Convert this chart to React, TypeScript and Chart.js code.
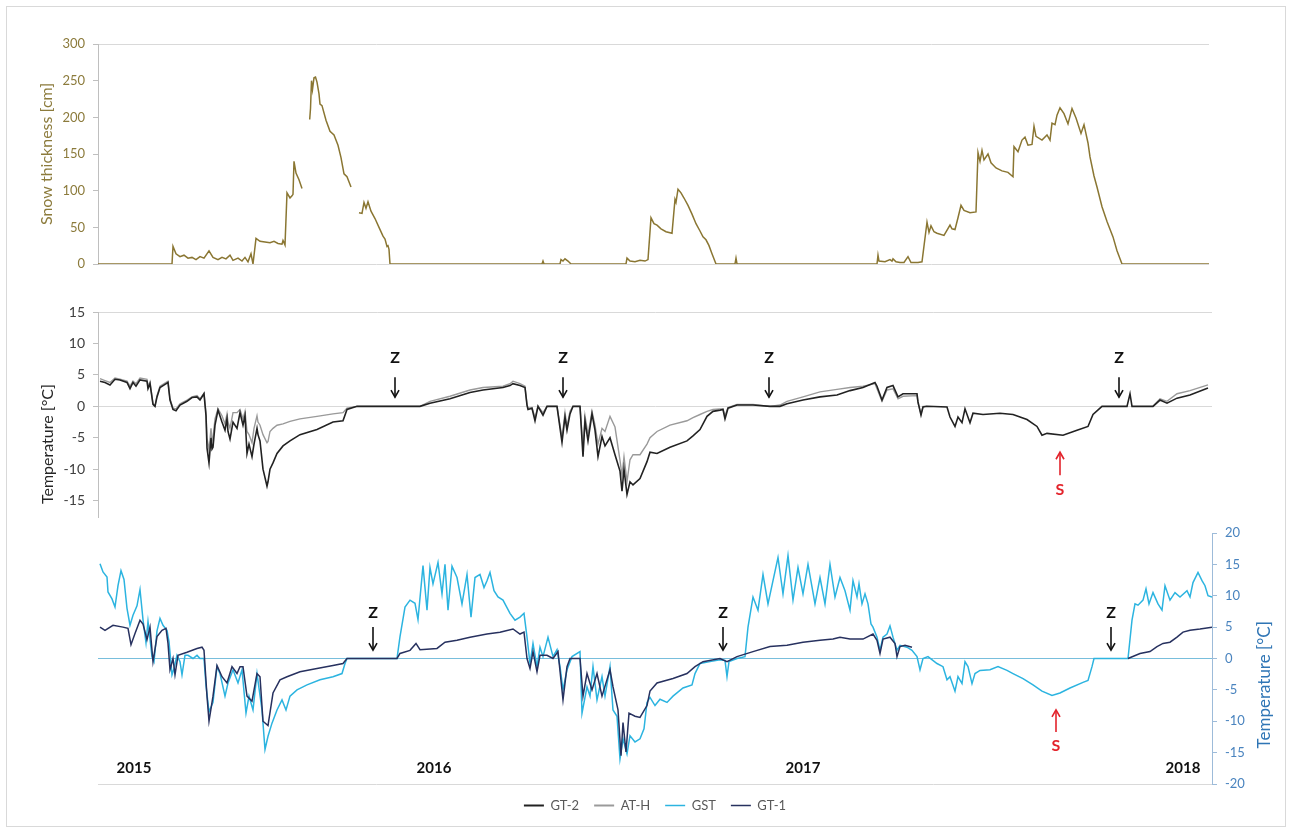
import React, { useEffect, useRef } from 'react';
import { Chart, registerables } from 'chart.js';

Chart.register(...registerables);

const W = 1290;
const H = 830;
const FONT = 'Lato, "Open Sans", "Noto Sans", sans-serif';

// ---------- DATA (x = days since start of record) ----------
const snowDays = [0, 74, 75, 78, 82, 86, 90, 94, 98, 102, 106, 111, 115, 120, 124, 128, 132, 135, 140, 144, 147, 150, 153, 155, 158, 162, 167, 172, 176, 180, 184, 185, 187, 189, 192, 194, 195, 196, 198, 201, 204, 205, 211.7, 212.5, 213.5, 214.5, 216, 217.5, 219, 221, 222, 224, 228, 232, 236, 240, 243, 246, 249, 253, 254, 261, 264, 266, 268, 270, 273, 277, 281, 285, 287, 289, 290, 291, 292, 444, 445, 446, 462, 463, 465, 467, 470, 473, 528, 529, 532, 537, 542, 547, 550, 553, 556, 559, 563, 568, 574, 577, 578, 580, 583, 586, 590, 594, 598, 602, 605, 608, 611, 614, 618, 637, 638, 639, 779, 780, 781, 787, 792, 794, 795, 798, 802, 806, 810, 813, 820, 824, 829, 831, 833, 836, 839, 846, 852, 854, 857, 860, 863, 866, 872, 878, 880, 882, 884, 886, 890, 893, 898, 904, 910, 915, 916, 920, 924, 927, 930, 934, 936, 938, 944, 949, 952, 954, 957, 959, 962, 966, 970, 974, 978, 983, 986, 990, 992, 996, 999, 1004, 1009, 1015, 1019, 1024, 1111];
const snowCm = [0, 0, 24, 14, 10, 12, 8, 9, 6, 10, 8, 18, 9, 6, 9, 7, 12, 5, 8, 4, 9, 3, 14, 0, 35, 31, 30, 29, 31, 28, 27, 32, 26, 97, 90, 93, 95, 140, 124, 115, 103, null, 197, 212, 250, 238, 254, 255, 248, 232, 218, 216, 196, 181, 176, 162, 145, 123, 119, 105, null, 70, 69, 84, 76, 85, 72, 62, 50, 38, 34, 24, 25, 20, 0, 0, 4, 0, 0, 6, 4, 7, 4, 0, 0, 8, 4, 3, 5, 4, 6, 63, 55, 53, 48, 44, 42, 88, 84, 102, 97, 90, 80, 68, 55, 45, 37, 33, 25, 14, 0, 0, 8, 0, 0, 12, 4, 3, 6, 4, 7, 3, 2, 2, 10, 2, 2, 3, 57, 43, 52, 44, 42, 39, 53, 48, 47, 63, 80, 73, 70, 71, 152, 140, 155, 142, 150, 138, 131, 127, 125, 119, 160, 153, 169, 173, 162, 163, 188, 174, 169, 176, 169, 192, 190, 203, 213, 205, 191, 212, 199, 178, 190, 165, 146, 120, 105, 78, 58, 37, 18, 0, 0];

const midDays = [
  2, 7, 12, 17, 22, 29, 32, 35, 38, 42,
  49, 50, 52, 55, 57, 59, 62, 69, 70, 72,
  75, 78, 82, 89, 94, 99, 102, 106, 108, 109,
  111, 113, 114, 115, 117, 120, 124, 127, 129, 130,
  132, 135, 139, 142, 145, 147, 149, 151, 154, 156,
  159, 160, 162, 165, 169, 170, 172, 175, 179, 185,
  192, 202, 219, 235, 245, 249, 259, 322, 332, 352,
  372, 385, 405, 412, 415, 422, 427, 429, 430, 434,
  437, 440, 445, 449, 459, 464, 467, 469, 472, 475,
  482, 485, 487, 490, 494, 497, 500, 504, 507, 512,
  517, 522, 524, 526, 529, 532, 535, 542, 549, 552,
  559, 572, 589, 595, 602, 609, 615, 622, 625, 627,
  630, 639, 655, 672, 682, 689, 705, 722, 739, 752,
  765, 777, 779, 784, 789, 795, 800, 805, 819, 820,
  823, 825, 829, 849, 852, 857, 860, 864, 867, 872,
  875, 885, 902, 915, 929, 939, 944, 949, 965, 979,
  990, 995, 1004, 1029, 1032, 1034, 1055, 1062, 1069, 1079,
  1092, 1110,
];
const gt2Temp = [
  4.0, 3.8, 3.4, 4.3, 4.2, 3.8, 2.8, 3.8, 3.2, 4.2,
  4.0, 2.8, 3.6, 0.3, 0, 1.5, 3.0, 3.7, 3.8, 1.0,
  -0.5, -0.7, 0.2, 0.8, 1.4, 1.5, 1.0, 2.0, -1.5, -6.6,
  -9.0, -5.0, -6.8, -6.5, -3.0, -0.6, -2.5, -3.8, -2.0, -4.0,
  -5.2, -2.5, -3.5, -1.0, -3.0, -1.5, -7.5, -6.0, -8.0, -6.0,
  -3.5, -4.5, -5.5, -10.0, -12.7, -12.0, -10.0, -9.0, -7.5, -6.3,
  -5.5, -4.5, -3.7, -2.5, -2.3, -0.5, 0, 0, 0.5, 1.2,
  2.2, 2.6, 3.0, 3.3, 3.6, 3.3, 3.0, 0.2, -0.5, -0.3,
  -2.3, 0, -1.4, 0, 0, -5.7, -1.7, -3.8, -1.2, 0,
  0, -8.0, -2.3, -5.5, -1.2, -3.8, -8.0, -4.8, -6.3, -5.0,
  -7.7, -10.3, -13.5, -10.0, -14.0, -12.0, -12.5, -11.5, -8.8, -7.3,
  -7.5, -6.5, -5.5, -4.7, -3.7, -1.6, -0.8, -0.6, -0.5, -2.0,
  -0.3, 0.2, 0.2, 0, 0, 0.4, 1.0, 1.5, 1.8, 2.5,
  3.0, 3.8, 3.2, 1.0, 3.0, 3.3, 1.5, 2.0, 2.0, 0.7,
  -1.4, -0.1, 0, -0.1, -1.7, -3.2, -1.7, -2.6, -0.4, -2.6,
  -1.1, -1.3, -1.1, -1.3, -2.1, -3.2, -4.6, -4.3, -4.6, -3.8,
  -3.2, -1.3, 0, 0, 2.0, 0, 0, 1.0, 0.5, 1.3,
  1.8, 2.9,
];
const athTemp = [
  4.4, 4.1, 3.8, 4.5, 4.3, 4.0, 3.2, 4.0, 3.6, 4.5,
  4.3, 3.2, 3.9, 0.4, 0.1, 1.7, 3.2, 3.9, 4.0, 1.2,
  -0.3, -0.4, 0.4, 1.0, 1.5, 1.7, 1.2, 2.1, -1.0, -5.0,
  -7.0, -3.5, -5.5, -5.0, -2.0, -0.4, -1.5, -2.8, -1.2, -2.5,
  -3.5, -1.0, -1.0, -0.5, -2.0, -0.8, -4.0, -4.5, -5.8, -3.5,
  -1.5, -2.5, -3.0, -4.5, -5.8, -5.6, -4.0, -3.5, -3.0, -2.8,
  -2.4, -2.0, -1.6, -1.2, -1.0, -0.3, 0, 0, 0.8, 1.6,
  2.6, 3.0, 3.2, 3.6, 4.0, 3.6, 3.2, 0.3, -0.3, -0.2,
  -1.8, 0, -1.0, 0, 0, -5.0, -1.0, -3.2, -0.8, 0,
  0, -6.5, -1.5, -4.5, -0.8, -3.0, -6.0, -3.5, -4.0, -1.6,
  -3.3, -8.6, -11.0, -8.0, -12.0, -8.5, -7.7, -7.7, -6.0, -5.0,
  -4.0, -3.0, -2.3, -1.8, -1.3, -0.8, -0.5, -0.4, -0.4, -1.5,
  -0.2, 0.3, 0.3, 0, 0.2, 0.8, 1.5, 2.3, 2.7, 3.0,
  3.2, 3.6, 2.8, 0.8, 2.6, 2.8, 1.2, 1.6, 1.7, 0.5,
  -1.2, 0, 0, null, null, null, null, null, null, null,
  null, null, null, null, null, null, null, null, null, null,
  null, null, null, null, null, null, 0, 1.2, 0.8, 2.0,
  2.5, 3.4,
];

const gstDays = [
  2, 5, 9, 10, 14, 17, 20, 23, 26, 29,
  32, 35, 39, 42, 45, 48, 50, 54, 56, 59,
  62, 65, 69, 71, 74, 76, 79, 82, 84, 87,
  90, 95, 99, 102, 106, 108, 111, 115, 119, 122,
  127, 130, 135, 140, 144, 148, 151, 155, 159, 164,
  167, 170, 174, 179, 184, 188, 192, 199, 209, 222,
  235, 244, 247, 249, 299, 302, 307, 312, 317, 320,
  325, 329, 332, 335, 340, 344, 347, 350, 354, 359,
  364, 369, 373, 377, 382, 386, 389, 392, 396, 400,
  405, 412, 417, 422, 426, 429, 432, 435, 439, 442,
  445, 450, 455, 459, 462, 465, 469, 474, 482, 484,
  489, 492, 495, 499, 504, 507, 512, 515, 519, 522,
  525, 529, 532, 537, 542, 546, 549, 552, 557, 562,
  569, 575, 585, 594, 597, 602, 612, 622, 627, 629,
  631, 639, 647, 650, 655, 660, 665, 670, 675, 680,
  685, 690, 695, 700, 705, 710, 717, 722, 727, 732,
  737, 742, 747, 752, 755, 759, 761, 764, 767, 770,
  773, 775, 779, 782, 785, 789, 792, 795, 799, 802,
  809, 814, 819, 822, 825, 830, 839, 845, 849, 852,
  857, 860, 864, 867, 870, 874, 877, 882, 892, 900,
  909, 915, 925, 935, 944, 954, 962, 972, 985, 990,
  994, 996, 1030, 1034, 1037, 1040, 1045, 1048, 1051, 1055,
  1060, 1064, 1067, 1072, 1077, 1082, 1089, 1092, 1095, 1100,
  1104, 1107, 1110, 1114,
];
const gstTemp = [
  15.1, 13.8, 13.0, 10.6, 9.5, 8.2, 11.6, 14.0, 12.6, 8.0,
  5.3, 6.9, 8.4, 11.0, 6.2, 2.5, 5.9, 0.3, -0.5, 4.4,
  6.4, 5.3, 4.5, 2.7, -2.6, -1.6, 0.5, -0.5, -2.6, 0.5,
  0.5, 0, 0.5, 0, 0, -4.3, -8.5, -7.0, -1.3, -2.4,
  -6.0, -3.9, -1.8, -3.9, -1.8, -8.7, -6.0, -8.2, -2.4, -8.2,
  -14.5, -12.4, -10.3, -8.2, -6.6, -8.2, -6.0, -5.0, -4.2, -3.4,
  -2.9, -2.4, -0.8, 0, 0, 3.5, 8.2, 9.3, 8.8, 6.2,
  14.8, 7.7, 14.5, 11.9, 15.3, 10.3, 15.0, 7.7, 14.7, 12.9,
  8.7, 13.4, 6.6, 12.9, 13.4, 11.3, 12.4, 13.7, 10.8, 9.8,
  9.3, 7.2, 6.1, 6.6, 7.2, 3.4, -0.8, 2.4, -1.3, 1.8,
  0.3, 3.4, 0.3, 1.4, -1.3, -5.0, -1.8, 0.3, 1.1, -8.7,
  -4.5, -6.0, -1.3, -6.6, -2.9, -6.0, -1.3, -8.2, -9.2, -16.0,
  -12.8, -15.2, -12.3, -13.3, -12.8, -11.2, -7.0, -6.2, -7.5, -6.5,
  -7.0, -6.0, -4.7, -4.2, -2.4, -0.8, -0.5, -0.2, -0.3, -2.9,
  -0.5, 0, 0.3, 5.0, 9.8, 7.7, 13.4, 8.7, 12.4, 16.1,
  10.3, 16.4, 9.3, 14.5, 10.3, 15.0, 8.7, 12.9, 8.7, 15.0,
  9.8, 12.9, 10.8, 7.7, 12.4, 9.8, 11.9, 8.7, 10.3, 8.7,
  5.5, 5.0, 3.4, 1.3, 3.4, 3.9, 5.2, 3.4, 1.3, 2.1,
  1.8, 1.3, 0.3, -1.8, 0, 0.3, -0.8, -1.3, -3.4, -2.9,
  -5.2, -2.9, -4.0, -0.5, -1.3, -4.0, -2.4, -1.9, -1.8, -1.3,
  -1.9, -2.4, -3.2, -4.2, -5.2, -5.9, -5.5, -4.7, -3.8, -3.5,
  -1.3, 0, 0, 6.1, 8.7, 8.5, 9.3, 11.1, 8.7, 10.5,
  8.7, 7.7, 11.6, 9.3, 10.5, 9.8, 10.8, 9.8, 12.1, 13.7,
  12.4, 11.6, 10.0, 9.8,
];

const gt1Days = [
  2, 7, 15, 25, 30, 33, 37, 42, 45, 49,
  52, 55, 59, 64, 68, 70, 72, 75, 77, 80,
  89, 99, 104, 106, 109, 111, 115, 119, 124, 129,
  134, 139, 142, 145, 149, 154, 159, 162, 165, 170,
  175, 182, 189, 202, 219, 235, 245, 249, 299, 302,
  312, 318, 322, 339, 347, 359, 372, 389, 402, 415,
  422, 426, 429, 432, 435, 439, 442, 449, 455, 460,
  465, 469, 472, 482, 485, 489, 494, 499, 504, 512,
  515, 520, 523, 525, 528, 531, 537, 542, 549, 552,
  559, 575, 589, 597, 605, 622, 629, 639, 655, 672,
  689, 705, 722, 735, 742, 752, 765, 775, 779, 782,
  785, 792, 797, 799, 802, 807, 814, 815, 1030, 1042,
  1052, 1059, 1065, 1072, 1079, 1085, 1092, 1102, 1114,
];
const gt1Temp = [
  5.0, 4.5, 5.3, 5.0, 4.8, 2.2, 4.0, 6.1, 5.5, 3.0,
  5.0, -0.5, 3.5, 4.5, 4.8, 2.4, -1.8, 0, -2.6, 0.5,
  1.0, 1.6, 1.8, 1.3, -6.0, -10.0, -6.0, -1.1, -2.9, -3.9,
  -1.3, -2.4, -1.3, -1.3, -6.0, -6.8, -2.4, -2.9, -10.0, -10.7,
  -5.5, -3.4, -2.9, -2.1, -1.6, -1.1, -0.8, 0, 0, 0.8,
  1.3, 2.4, 1.4, 1.6, 2.6, 2.9, 3.4, 3.9, 4.2, 4.7,
  3.9, 4.2, 0, -1.6, 1.1, -2.1, 0.5, 0.5, 0, 1.1,
  -6.6, -1.3, 0, 0, -6.0, -2.4, -5.0, -2.4, -6.0, -1.8,
  -4.5, -8.2, -15.5, -10.2, -14.9, -8.7, -9.2, -9.4, -7.5, -5.2,
  -3.9, -3.2, -2.4, -1.3, -0.5, 0, -0.5, 0.3, 1.1, 1.9,
  2.1, 2.6, 2.9, 3.1, 3.4, 3.1, 3.1, 3.9, 2.9, 0.8,
  3.1, 3.4, 2.4, 0.3, 1.9, 2.1, 1.8, null, 0, 0.8,
  1.1, 1.9, 2.4, 2.6, 3.4, 4.2, 4.5, 4.7, 5.0,
];

// annotations
const zDaysMid = [297, 465, 671, 1021];
const sDaysMid = [962];
const zDaysLow = [275, 625, 1013];
const sDaysLow = [958];
const yearLabels = ['2015', '2016', '2017', '2018'];
const yearDays = [36, 336, 705, 1085];

// ---------- STYLE ----------
const SNOW = '#8a7632';
const SNOW_TXT = '#8c7b3c';
const C_GT2 = '#222222';
const C_ATH = '#9a9a9a';
const C_GST = '#2cb4e0';
const C_GT1 = '#27315f';
const AXIS = '#bfbfbf';
const GRID = '#d9d9d9';

const pts = (xs: number[], ys: (number | null)[]) => xs.map((x, i) => ({ x, y: ys[i] }));

type OverlaySpec = {
  z?: { days: number[]; tip: number; len: number; gap: number };
  s?: { days: number[]; tip: number; len: number; gap: number };
  years?: { labels: string[]; days: number[]; value: number };
  title?: { text: string; x: number; value: number; color: string; size: number };
};

function makeOverlay(o: OverlaySpec) {
  return {
    id: 'overlay',
    afterDraw(chart: any) {
      const ctx: CanvasRenderingContext2D = chart.ctx;
      const xs = chart.scales.x;
      const ys = chart.scales.y;
      ctx.save();
      const arrow = (px: number, from: number, to: number, color: string) => {
        ctx.strokeStyle = color;
        ctx.lineWidth = 1.6;
        ctx.beginPath();
        ctx.moveTo(px, from);
        ctx.lineTo(px, to);
        ctx.stroke();
        const dir = to > from ? 1 : -1;
        ctx.beginPath();
        ctx.moveTo(px - 4, to - dir * 7);
        ctx.lineTo(px, to);
        ctx.lineTo(px + 4, to - dir * 7);
        ctx.stroke();
      };
      ctx.textAlign = 'center';
      ctx.textBaseline = 'middle';
      if (o.z) {
        const z = o.z;
        ctx.font = `bold 16px ${FONT}`;
        ctx.fillStyle = '#111111';
        z.days.forEach((d) => {
          const px = xs.getPixelForValue(d);
          const tip = ys.getPixelForValue(z.tip);
          const tail = tip - z.len;
          arrow(px, tail, tip, '#111111');
          ctx.fillText('Z', px, tail - z.gap);
        });
      }
      if (o.s) {
        const s = o.s;
        ctx.font = `bold 16px ${FONT}`;
        ctx.fillStyle = '#e3232b';
        s.days.forEach((d) => {
          const px = xs.getPixelForValue(d);
          const tip = ys.getPixelForValue(s.tip);
          const tail = tip + s.len;
          arrow(px, tail, tip, '#e3232b');
          ctx.fillText('S', px, tail + s.gap);
        });
      }
      if (o.years) {
        const yr = o.years;
        ctx.font = `bold 15px ${FONT}`;
        ctx.fillStyle = '#111111';
        yr.labels.forEach((t, i) => {
          ctx.fillText(t, xs.getPixelForValue(yr.days[i]), ys.getPixelForValue(yr.value));
        });
      }
      if (o.title) {
        const t = o.title;
        ctx.font = `${t.size}px ${FONT}`;
        ctx.fillStyle = t.color;
        ctx.translate(t.x, ys.getPixelForValue(t.value));
        ctx.rotate(-Math.PI / 2);
        ctx.fillText(t.text, 0, 0);
      }
      ctx.restore();
    },
  };
}

const gridAt = (vals: number[], color: string, other = 'rgba(0,0,0,0)') => (c: any) =>
  c.tick && vals.includes(c.tick.value) ? color : other;

function snowConfig(): any {
  return {
    type: 'line',
    data: {
      datasets: [
        { label: 'Snow thickness', data: pts(snowDays, snowCm), borderColor: SNOW, borderWidth: 1.5, pointRadius: 0, tension: 0, spanGaps: false },
      ],
    },
    options: {
      animation: false,
      responsive: false,
      devicePixelRatio: 1,
      events: [],
      layout: { padding: { left: 0, right: 81, top: 44, bottom: 566 } },
      plugins: { legend: { display: false }, tooltip: { enabled: false } },
      scales: {
        x: { type: 'linear', min: 0, max: 1111, display: false },
        y: {
          position: 'left',
          min: 0,
          max: 300,
          ticks: { stepSize: 50, color: SNOW_TXT, font: { size: 13, family: FONT }, padding: 8 },
          grid: { color: gridAt([300, 0], GRID), tickColor: AXIS, tickLength: 5, lineWidth: 1 },
          border: { display: true, color: AXIS },
          title: { display: true, text: 'Snow thickness [cm]', color: SNOW_TXT, font: { size: 16, family: FONT }, padding: { top: 37, bottom: 0 } },
          afterFit: (s: any) => { s.width = 98; },
        },
      },
    },
  };
}

function midConfig(): any {
  return {
    type: 'line',
    data: {
      datasets: [
        { label: 'GT-2', data: pts(midDays, gt2Temp), borderColor: C_GT2, borderWidth: 1.6, pointRadius: 0, tension: 0, spanGaps: false },
        { label: 'AT-H', data: pts(midDays, athTemp), borderColor: C_ATH, borderWidth: 1.4, pointRadius: 0, tension: 0, spanGaps: false },
      ],
    },
    options: {
      animation: false,
      responsive: false,
      devicePixelRatio: 1,
      events: [],
      layout: { padding: { left: 0, right: 78, top: 312, bottom: 313 } },
      plugins: { legend: { display: false }, tooltip: { enabled: false } },
      scales: {
        x: { type: 'linear', min: 0, max: 1114, display: false },
        y: {
          position: 'left',
          min: -17.6,
          max: 15,
          ticks: { stepSize: 5, includeBounds: false, color: '#404040', font: { size: 14, family: FONT }, padding: 8 },
          grid: { color: gridAt([15, 0], GRID), tickColor: AXIS, tickLength: 5, lineWidth: 1 },
          border: { display: true, color: AXIS },
          afterFit: (s: any) => { s.width = 98; },
        },
      },
    },
    plugins: [
      makeOverlay({
        z: { days: zDaysMid, tip: 1.45, len: 20, gap: 19 },
        s: { days: sDaysMid, tip: -7.3, len: 23, gap: 15 },
        title: { text: 'Temperature [°C]', x: 48, value: -6.0, color: '#262626', size: 16 },
      }),
    ],
  };
}

function lowConfig(): any {
  return {
    type: 'line',
    data: {
      datasets: [
        { label: 'GT-2', data: [], borderColor: C_GT2, borderWidth: 2, pointRadius: 0 },
        { label: 'AT-H', data: [], borderColor: C_ATH, borderWidth: 2, pointRadius: 0 },
        { label: 'GST', data: pts(gstDays, gstTemp), borderColor: C_GST, borderWidth: 1.5, pointRadius: 0, tension: 0, spanGaps: false },
        { label: 'GT-1', data: pts(gt1Days, gt1Temp), borderColor: C_GT1, borderWidth: 1.5, pointRadius: 0, tension: 0, spanGaps: false, order: -1 },
      ],
    },
    options: {
      animation: false,
      responsive: false,
      devicePixelRatio: 1,
      events: [],
      layout: { padding: { left: 98, right: 0, top: 533, bottom: 8 } },
      plugins: {
        tooltip: { enabled: false },
        legend: {
          display: true,
          position: 'bottom',
          fullSize: false,
          align: 'center',
          labels: {
            usePointStyle: true,
            pointStyle: 'line',
            pointStyleWidth: 20,
            padding: 15,
            color: '#595959',
            font: { size: 13, family: FONT },
            sort: (a: any, b: any) => a.datasetIndex - b.datasetIndex,
          },
        },
      },
      scales: {
        x: { type: 'linear', min: 0, max: 1114, display: false },
        y: {
          position: 'right',
          min: -20,
          max: 20,
          ticks: { stepSize: 5, color: '#4a84bf', font: { size: 13, family: FONT }, padding: 8 },
          grid: {
            color: (c: any) => (c.tick && c.tick.value === 0 ? '#78bedc' : c.tick && c.tick.value === -20 ? GRID : 'rgba(0,0,0,0)'),
            tickColor: '#9dbbd9',
            tickLength: 5,
            lineWidth: 1,
          },
          border: { display: true, color: '#9dbbd9' },
          afterFit: (s: any) => { s.width = 78; },
        },
      },
    },
    plugins: [
      makeOverlay({
        z: { days: zDaysLow, tip: 1.35, len: 23, gap: 14.5 },
        s: { days: sDaysLow, tip: -8.2, len: 22, gap: 14 },
        years: { labels: yearLabels, days: yearDays, value: -17.5 },
        title: { text: 'Temperature [°C]', x: 1265, value: -4.2, color: '#2f75b5', size: 17 },
      }),
    ],
  };
}

export default function App() {
  const r1 = useRef<HTMLCanvasElement>(null);
  const r2 = useRef<HTMLCanvasElement>(null);
  const r3 = useRef<HTMLCanvasElement>(null);

  useEffect(() => {
    const charts = [
      new Chart(r1.current as HTMLCanvasElement, snowConfig()),
      new Chart(r2.current as HTMLCanvasElement, midConfig()),
      new Chart(r3.current as HTMLCanvasElement, lowConfig()),
    ];
    return () => charts.forEach((c) => c.destroy());
  }, []);

  const cs: React.CSSProperties = { position: 'absolute', left: 0, top: 0, width: W, height: H };
  return (
    <div style={{ position: 'absolute', left: 0, top: 0, width: W, height: H, background: '#ffffff', overflow: 'hidden' }}>
      <div style={{ position: 'absolute', left: 6, top: 6, width: 1278, height: 819, border: '1px solid #d9d9d9' }} />
      <canvas ref={r1} width={W} height={H} style={cs} />
      <canvas ref={r2} width={W} height={H} style={cs} />
      <canvas ref={r3} width={W} height={H} style={cs} />
    </div>
  );
}
